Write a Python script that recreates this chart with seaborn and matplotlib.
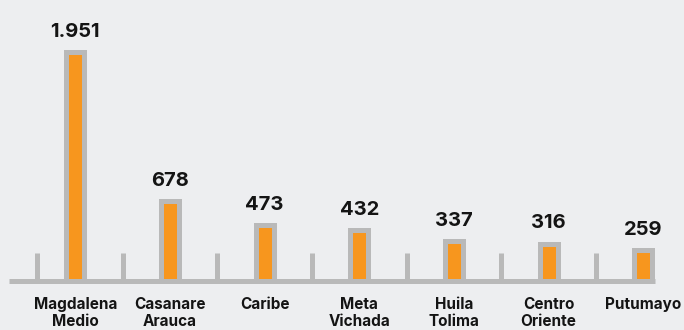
import matplotlib
matplotlib.use("Agg")
import matplotlib.pyplot as plt
import seaborn as sns
import pandas as pd

categories = ["Magdalena\nMedio", "Casanare\nArauca", "Caribe", "Meta\nVichada",
              "Huila\nTolima", "Centro\nOriente", "Putumayo"]
values = [1951, 678, 473, 432, 337, 316, 259]

BG = "#edeef0"
ORANGE = "#f7961e"
GRAY = "#b9b9b9"
TEXT = "#141414"

sns.set_theme(style="white")
plt.rcParams["font.family"] = ["Inter", "DejaVu Sans"]

df = pd.DataFrame({"region": categories, "value": values})

fig = plt.figure(figsize=(6.84, 3.30), dpi=100, facecolor=BG)
ax = fig.add_axes([9 / 684, 0, 1 - 9 / 684, 1])
ax.set_facecolor(BG)

sns.barplot(data=df, x="region", y="value", color=ORANGE, saturation=1,
            edgecolor=GRAY, linewidth=3.6, width=0.19, ax=ax, zorder=3)

xmin = -0.70
xmax = 6.43
ax.set_xlim(xmin, xmax)
ax.set_ylim(-423, 2398)

# baseline and separator ticks
n = len(categories)
ax.hlines(0, xmin, n - 1 + 0.12, color=GRAY, linewidth=3.6, zorder=2)
sep = [-0.4] + [i + 0.5 for i in range(n - 1)]
ax.vlines(sep, 0, 232, color=GRAY, linewidth=3.6, zorder=2)

for i, v in enumerate(values):
    ax.text(i, v + 95, f"{v:,}".replace(",", "."), ha="center", va="bottom",
            fontsize=14.5, fontweight="bold", color=TEXT)

for i, c in enumerate(categories):
    ax.text(i, -140, c, ha="center", va="top", fontsize=11,
            fontweight="bold", color=TEXT, linespacing=1.15)

ax.set_xticks([])
ax.set_yticks([])
ax.set_xlabel("")
ax.set_ylabel("")
for s in ax.spines.values():
    s.set_visible(False)

fig.savefig("out.png", dpi=100, facecolor=BG)
